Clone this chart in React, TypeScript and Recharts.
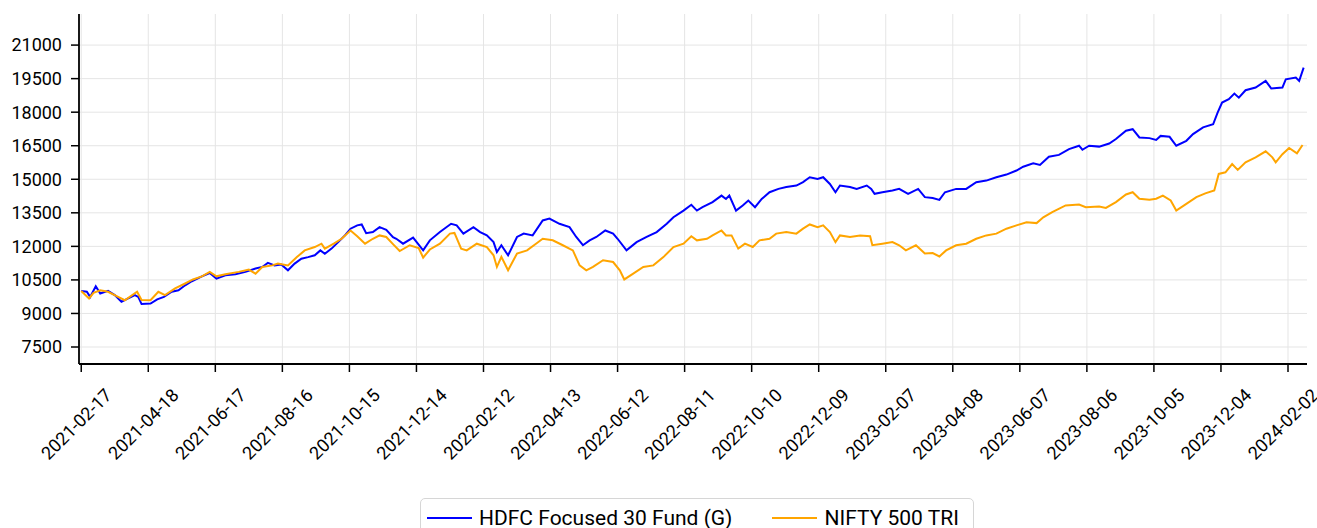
import React from "react";
import { LineChart, Line, XAxis, YAxis, CartesianGrid, Legend } from "recharts";

// day offsets from START
const START = "2021-02-17";

const FUND_POINTS: [number, number][] = [
  [0, 10000], [5, 9970], [8, 9740], [13, 10220], [17, 9890], [24, 10010], [30, 9820], [36, 9520],
  [42, 9670], [48, 9820], [51, 9740], [54, 9420], [62, 9440], [68, 9630], [74, 9740], [81, 9970],
  [87, 10040], [93, 10260], [99, 10440], [108, 10660], [115, 10810], [121, 10560], [129, 10710],
  [138, 10750], [147, 10860], [156, 11010], [162, 11080], [167, 11260], [173, 11150], [179, 11190],
  [185, 10930], [191, 11230], [197, 11450], [203, 11520], [209, 11600], [214, 11820], [218, 11670],
  [224, 11900], [230, 12190], [236, 12490], [241, 12790], [247, 12940], [251, 12980], [255, 12590],
  [261, 12640], [267, 12860], [273, 12740], [279, 12410], [282, 12340], [288, 12120], [297, 12390],
  [306, 11820], [312, 12270], [321, 12640], [331, 13010], [336, 12940], [342, 12570], [351, 12860],
  [357, 12640], [363, 12490], [369, 12190], [372, 11750], [376, 12050], [382, 11600], [390, 12420],
  [396, 12570], [404, 12490], [413, 13160], [419, 13240], [428, 13010], [437, 12860], [443, 12420],
  [449, 12050], [455, 12270], [461, 12420], [469, 12710], [476, 12570], [480, 12340], [488, 11820],
  [497, 12190], [506, 12420], [515, 12640], [524, 13010], [530, 13300], [539, 13600], [546, 13860],
  [551, 13600], [556, 13750], [565, 13980], [573, 14270], [577, 14120], [580, 14270], [586, 13600],
  [592, 13830], [597, 14050], [603, 13750], [609, 14120], [616, 14420], [624, 14570], [631, 14650],
  [640, 14720], [646, 14870], [652, 15090], [659, 15010], [664, 15090], [670, 14790], [675, 14420],
  [679, 14720], [688, 14650], [694, 14570], [703, 14720], [707, 14570], [710, 14350], [717, 14420],
  [726, 14500], [732, 14570], [740, 14350], [749, 14570], [755, 14200], [762, 14160], [768, 14080],
  [773, 14420], [783, 14570], [792, 14570], [801, 14870], [810, 14940], [819, 15090], [828, 15210],
  [837, 15390], [843, 15560], [852, 15710], [858, 15640], [866, 16010], [875, 16090], [884, 16350],
  [893, 16500], [896, 16320], [902, 16500], [911, 16460], [920, 16600], [926, 16800], [935, 17170],
  [941, 17240], [947, 16870], [956, 16840], [962, 16760], [966, 16940], [974, 16900], [980, 16500],
  [989, 16720], [995, 17020], [1004, 17320], [1013, 17460], [1017, 17980], [1021, 18430],
  [1027, 18580], [1032, 18830], [1036, 18650], [1042, 18980], [1051, 19100], [1060, 19400],
  [1065, 19060], [1075, 19100], [1078, 19470], [1087, 19550], [1090, 19400], [1094, 19990],
];

const NIFTY_POINTS: [number, number][] = [
  [0, 10000], [7, 9670], [11, 9920], [17, 10040], [24, 9970], [33, 9740], [39, 9590], [50, 9970],
  [54, 9600], [62, 9590], [69, 9970], [75, 9820], [84, 10120], [93, 10340], [100, 10520],
  [108, 10660], [115, 10860], [121, 10660], [129, 10750], [141, 10860], [150, 10960], [156, 10780],
  [162, 11080], [171, 11150], [176, 11230], [185, 11150], [193, 11520], [200, 11820], [209, 11970],
  [215, 12120], [218, 11900], [226, 12120], [233, 12340], [241, 12710], [247, 12450], [254, 12120],
  [261, 12340], [267, 12490], [273, 12420], [279, 12100], [285, 11790], [294, 12050], [302, 11920],
  [306, 11500], [312, 11860], [321, 12120], [330, 12570], [334, 12600], [340, 11900], [345, 11820],
  [354, 12120], [363, 11970], [369, 11600], [372, 11080], [376, 11530], [382, 10930], [390, 11680],
  [399, 11820], [407, 12120], [413, 12340], [422, 12270], [431, 12050], [440, 11820], [446, 11150],
  [452, 10930], [458, 11080], [467, 11380], [476, 11300], [482, 10930], [486, 10520], [494, 10780],
  [503, 11080], [512, 11150], [521, 11520], [530, 11970], [539, 12120], [546, 12450], [551, 12270],
  [560, 12340], [565, 12490], [573, 12710], [577, 12490], [582, 12490], [588, 11900], [594, 12120],
  [601, 11970], [607, 12270], [616, 12340], [622, 12570], [631, 12640], [640, 12570], [646, 12790],
  [652, 12980], [659, 12860], [664, 12940], [670, 12640], [675, 12190], [679, 12490], [688, 12420],
  [697, 12490], [706, 12450], [708, 12050], [717, 12120], [726, 12190], [732, 12050], [738, 11820],
  [747, 12050], [755, 11680], [762, 11700], [768, 11550], [774, 11820], [783, 12050], [792, 12120],
  [801, 12340], [810, 12490], [819, 12570], [828, 12790], [837, 12940], [846, 13080], [855, 13040],
  [861, 13300], [869, 13530], [881, 13830], [893, 13870], [899, 13750], [911, 13780], [917, 13720],
  [926, 13980], [935, 14320], [941, 14420], [947, 14130], [956, 14080], [962, 14130], [968, 14270],
  [975, 14050], [980, 13600], [989, 13900], [998, 14200], [1006, 14370], [1014, 14500],
  [1018, 15240], [1024, 15310], [1030, 15680], [1035, 15420], [1042, 15760], [1051, 15980],
  [1060, 16250], [1066, 15980], [1069, 15760], [1075, 16120], [1081, 16400], [1088, 16160],
  [1093, 16530],
];

const TICK_LABELS = [
  "2021-02-17", "2021-04-18", "2021-06-17", "2021-08-16", "2021-10-15", "2021-12-14",
  "2022-02-12", "2022-04-13", "2022-06-12", "2022-08-11", "2022-10-10", "2022-12-09",
  "2023-02-07", "2023-04-08", "2023-06-07", "2023-08-06", "2023-10-05", "2023-12-04",
  "2024-02-02",
];

const Y_TICKS = [7500, 9000, 10500, 12000, 13500, 15000, 16500, 18000, 19500, 21000];

const SERIES = [
  { name: "HDFC Focused 30 Fund (G)", color: "#0000FF", points: FUND_POINTS },
  { name: "NIFTY 500 TRI", color: "#FFA500", points: NIFTY_POINTS },
];

const DAY_MS = 86400000;
const startMs = Date.parse(START);
const toDay = (s: string) => Math.round((Date.parse(s) - startMs) / DAY_MS);
const fmtDay = (d: number) => new Date(startMs + d * DAY_MS).toISOString().slice(0, 10);

const xTicks = TICK_LABELS.map(toDay);

function DateTick({ x, y, payload }: any) {
  return (
    <text
      transform={`translate(${x - 5},${y + 50}) rotate(-45)`}
      textAnchor="middle"
      dominantBaseline="central"
      fontSize={18}
      fill="#000"
    >
      {fmtDay(payload.value)}
    </text>
  );
}

function LegendBox() {
  return (
    <div style={{ paddingLeft: 420, height: 36 }}>
      <div
        style={{
          display: "inline-flex",
          alignItems: "center",
          height: 40,
          boxSizing: "border-box",
          border: "1.5px solid #d6d6d6",
          borderRadius: 5,
          padding: "0 14px 0 6px",
          fontSize: 21,
          color: "#000",
          background: "#fff",
        }}
      >
        {SERIES.map((s, i) => (
          <span key={s.name} style={{ display: "inline-flex", alignItems: "center", marginLeft: i ? 40 : 0 }}>
            <span style={{ width: 45, height: 2, background: s.color, marginRight: 7 }} />
            {s.name}
          </span>
        ))}
      </div>
    </div>
  );
}

export default function App() {
  const data = SERIES.map((s) => s.points.map(([d, v]) => ({ day: d, value: v })));

  return (
    <div style={{ position: "absolute", left: 0, top: 0, fontFamily: "Roboto, sans-serif", background: "#fff" }}>
      <LineChart width={1317} height={528} margin={{ top: 14, right: 10, left: 0, bottom: 0 }}>
        <CartesianGrid stroke="#e5e5e5" strokeWidth={1} horizontalValues={Y_TICKS} verticalValues={xTicks} />
        <XAxis
          type="number"
          dataKey="day"
          domain={[-2, 1097]}
          ticks={xTicks}
          tick={<DateTick />}
          tickSize={8}
          tickMargin={2}
          height={128}
          interval={0}
          allowDataOverflow
          axisLine={{ stroke: "#000", strokeWidth: 1.8 }}
          tickLine={{ stroke: "#000", strokeWidth: 1.5 }}
        />
        <YAxis
          type="number"
          domain={[6740, 22390]}
          ticks={Y_TICKS}
          width={79}
          tickSize={8}
          tickMargin={9}
          interval={0}
          allowDataOverflow
          tick={{ fontSize: 18, fill: "#000" }}
          axisLine={{ stroke: "#000", strokeWidth: 1.8 }}
          tickLine={{ stroke: "#000", strokeWidth: 1.5 }}
        />
        <Legend verticalAlign="bottom" content={<LegendBox />} wrapperStyle={{ bottom: -6, left: 0, width: 1317 }} />
        {SERIES.map((s, i) => (
          <Line
            key={s.name}
            data={data[i]}
            dataKey="value"
            name={s.name}
            type="linear"
            stroke={s.color}
            strokeWidth={2}
            dot={false}
            isAnimationActive={false}
          />
        ))}
      </LineChart>
    </div>
  );
}
